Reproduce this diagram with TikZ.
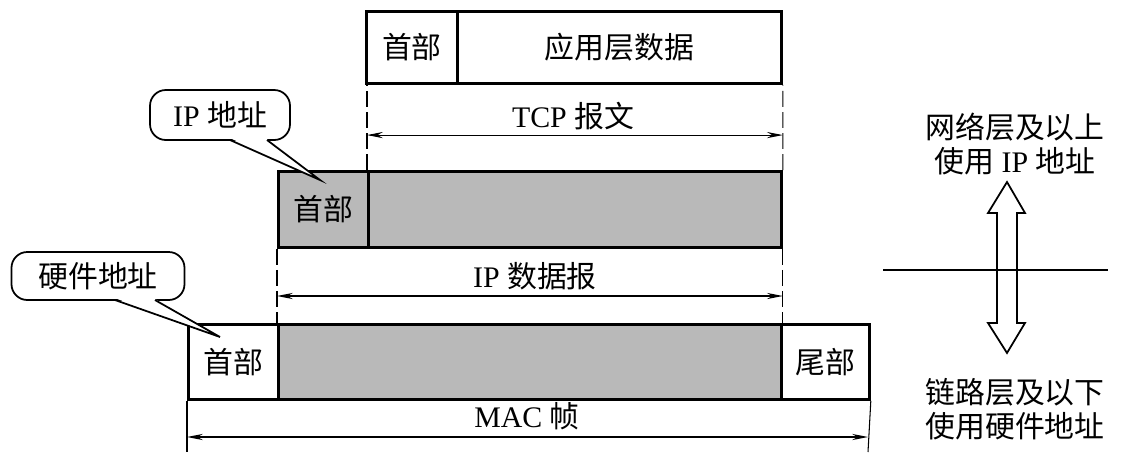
\documentclass[tikz,border=0pt]{standalone}
\usepackage{fontspec}
\setmainfont{Liberation Serif}
\newfontfamily\cjk{Noto Sans CJK SC}
\usetikzlibrary{arrows.meta,calc,positioning}
\newcommand\pxu{0.02cm}

\begin{document}
\begin{tikzpicture}[x=0.02cm, y=-0.02cm,
    cell/.style={draw, line width=1.6pt, inner sep=0pt, anchor=north west,
        font=\fontsize{17}{20}\selectfont},
    shaded/.style={cell, fill=gray!55},
    guide/.style={line width=0.6pt, dash pattern=on 9pt off 3pt},
    dimline/.style={{Stealth[length=9pt,width=3.5pt]}-{Stealth[length=9pt,width=3.5pt]}, line width=0.6pt},
    dimlabel/.style={font=\fontsize{17}{20}\selectfont},
    callout/.style={draw, line width=1pt, rounded corners=9pt, inner sep=0pt,
        font=\fontsize{17}{20}\selectfont},
    sidetext/.style={align=center, font=\fontsize{17}{19}\selectfont}]
    % Fix the canvas to the reference size
    \useasboundingbox (0,0) rectangle (1135,463);
    % TCP segment
    \node[cell, minimum width={91*\pxu}, minimum height={72*\pxu}] (tcphead) at (365,10) {\cjk 首部};
    \node[cell, minimum width={324*\pxu}, minimum height={72*\pxu}] (tcpdata) at (456,10) {\cjk 应用层数据};
    % IP datagram
    \node[shaded, minimum width={90*\pxu}, minimum height={76*\pxu}] (iphead) at (277,170) {\cjk 首部};
    \node[shaded, minimum width={413*\pxu}, minimum height={76*\pxu}] (ipdata) at (367,170) {};
    % MAC frame
    \node[cell, minimum width={90*\pxu}, minimum height={75*\pxu}] (machead) at (187,323) {\cjk 首部};
    \node[shaded, minimum width={503*\pxu}, minimum height={75*\pxu}] (macdata) at (277,323) {};
    \node[cell, minimum width={88*\pxu}, minimum height={75*\pxu}] (mactail) at (780,323) {\cjk 尾部};
    % Guides and dimension lines
    \draw[guide] (ipdata.north west) -- (ipdata.north west |- tcphead.south);
    \draw[guide] (ipdata.north east) -- (tcpdata.south east);
    \coordinate (tcpl) at ($(ipdata.north west)!0.41!(ipdata.north west |- tcphead.south)$);
    \coordinate (tcpr) at (tcpl -| tcpdata.east);
    \draw[dimline] (tcpl) -- (tcpr);
    \node[dimlabel] (tcplabel) at (573,116) {TCP {\cjk 报文}};
    \draw[guide] (iphead.south west) -- (macdata.north west);
    \draw[guide] (ipdata.south east) -- (macdata.north east);
    \coordinate (ipl) at (277,296);
    \coordinate (ipr) at (ipl -| ipdata.east);
    \draw[dimline] (ipl) -- (ipr);
    \node[dimlabel] (iplabel) at (535,276) {IP {\cjk 数据报}};
    \coordinate (macbl) at (187,452);
    \coordinate (macbr) at (868,452);
    \draw[line width=0.6pt] (machead.south west) -- (macbl);
    \draw[line width=0.6pt] (mactail.south east) -- (macbr);
    \coordinate (macl) at (187,437);
    \coordinate (macr) at (868,437);
    \draw[dimline] (macl) -- (macr);
    \node[dimlabel] (maclabel) at (527,416) {MAC {\cjk 帧}};
    % Callouts
    \node[callout, minimum width={140*\pxu}, minimum height={50*\pxu}] (ipaddr) at (220,115) {IP {\cjk 地址}};
    \coordinate (iptip) at (320,180);
    \fill[white] (231,138.5) -- (iptip) -- (266,138.5) -- cycle;
    \draw[line width=1pt] (230,140) -- (iptip) -- (267,140);
    \node[callout, minimum width={173*\pxu}, minimum height={48*\pxu}] (hwaddr) at (98,276) {\cjk 硬件地址};
    \coordinate (hwtip) at (220,337);
    \fill[white] (116,298.5) -- (hwtip) -- (154,298.5) -- cycle;
    \draw[line width=1pt] (115,300) -- (hwtip) -- (155,300);
    % Layer boundary on the right
    \node[sidetext] (upper) at (1015,144) {\cjk 网络层及以上\\{\cjk 使用} IP {\cjk 地址}};
    \node[sidetext] (lower) at (1015,409) {\cjk 链路层及以下\\\cjk 使用硬件地址};
    \draw[line width=1pt] (997,213) -- (988,213) -- (1007,182) -- (1025,213) -- (1017,213)
        -- (1017,323) -- (1025,323) -- (1007,353) -- (988,323) -- (997,323) -- cycle;
    \draw[line width=1.6pt] (883,270) -- (1108,270);
\end{tikzpicture}
\end{document}
